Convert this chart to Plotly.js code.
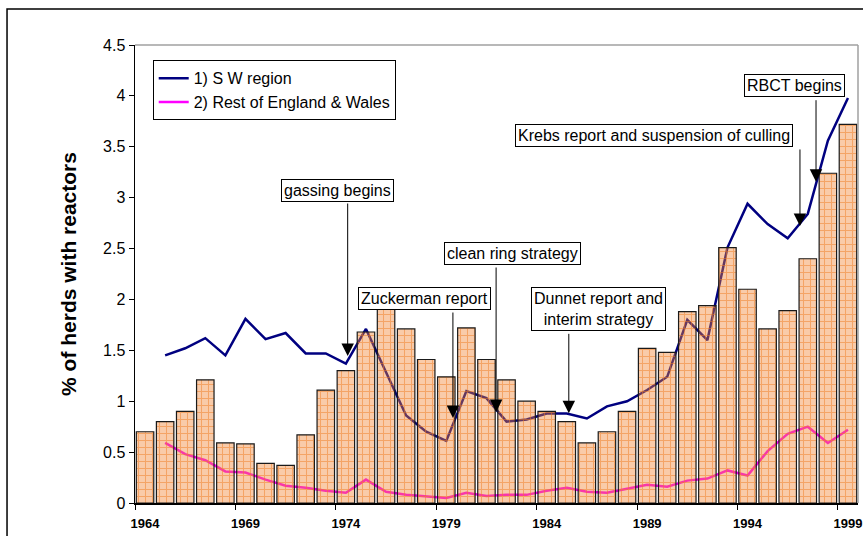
<!DOCTYPE html>
<html>
<head>
<meta charset="utf-8">
<script src="https://cdn.plot.ly/plotly-3.0.1.min.js"></script>
<style>
  html, body { margin: 0; padding: 0; background: #fff; }
  #chart { width: 863px; height: 536px; }
</style>
</head>
<body>
<div id="chart"></div>
<script>
// Years on the category axis
const years = [1964, 1965, 1966, 1967, 1968, 1969, 1970, 1971, 1972, 1973,
               1974, 1975, 1976, 1977, 1978, 1979, 1980, 1981, 1982, 1983,
               1984, 1985, 1986, 1987, 1988, 1989, 1990, 1991, 1992, 1993,
               1994, 1995, 1996, 1997, 1998, 1999];

// Bars: % of herds with reactors (GB)
const allHerds = [0.70, 0.80, 0.90, 1.21, 0.59, 0.58, 0.39, 0.37, 0.67, 1.11,
                  1.30, 1.68, 1.94, 1.71, 1.41, 1.24, 1.72, 1.41, 1.21, 1.00,
                  0.90, 0.80, 0.59, 0.70, 0.90, 1.52, 1.48, 1.88, 1.94, 2.51,
                  2.10, 1.71, 1.89, 2.40, 3.24, 3.72];

// 1) S W region
const swRegion = [null, 1.45, 1.52, 1.62, 1.45, 1.81, 1.61, 1.67, 1.47, 1.47,
                  1.37, 1.71, 1.29, 0.86, 0.70, 0.61, 1.10, 1.03, 0.80, 0.82,
                  0.88, 0.88, 0.83, 0.95, 1.00, 1.11, 1.24, 1.80, 1.60, 2.51,
                  2.94, 2.74, 2.60, 2.84, 3.56, 3.98];

// 2) Rest of England & Wales
const restEW = [null, 0.59, 0.48, 0.42, 0.31, 0.30, 0.23, 0.17, 0.15, 0.12,
                0.10, 0.23, 0.11, 0.08, 0.065, 0.05, 0.10, 0.07, 0.08, 0.08,
                0.12, 0.15, 0.11, 0.10, 0.14, 0.18, 0.16, 0.22, 0.24, 0.32,
                0.27, 0.51, 0.68, 0.75, 0.59, 0.72];

const labelYears = [1964, 1969, 1974, 1979, 1984, 1989, 1994, 1999];
const tickBounds = [1963.5, 1968.5, 1973.5, 1978.5, 1983.5, 1988.5, 1993.5, 1998.5];

// Event call-outs: box text, box centre (paper), arrow tip (data), arrow length (px)
const events = [
    { text: 'gassing begins', bx: 0.2794, by: 0.6834, year: 1974.09, val: 1.444, len: 154 },
    { text: 'Zuckerman report', bx: 0.4004, by: 0.4469, year: 1979.33, val: 0.835, len: 107 },
    { text: 'clean ring strategy', bx: 0.5224, by: 0.5443, year: 1981.48, val: 0.894, len: 146 },
    { text: 'Dunnet report and<br>interim strategy', bx: 0.6404, by: 0.4236, year: 1985.10, val: 0.881, len: 81 },
    { text: 'Krebs report and suspension of culling', bx: 0.7181, by: 0.8028, year: 1996.61, val: 2.722, len: 78 },
    { text: 'RBCT begins', bx: 0.9127, by: 0.9116, year: 1997.41, val: 3.157, len: 83 }
];

const FONT = 'Liberation Sans, Arial, sans-serif';

const swTrace = {
    x: years, y: swRegion,
    name: '1) S W region',
    type: 'scatter', mode: 'lines',
    line: { color: '#000080', width: 2.5 },
    legendgroup: 'a',
    xaxis: 'x', yaxis: 'y'
};

const restTrace = {
    x: years, y: restEW,
    name: '2) Rest of England & Wales',
    type: 'scatter', mode: 'lines',
    line: { color: '#ff00ff', width: 2.5 },
    legendgroup: 'b',
    xaxis: 'x', yaxis: 'y'
};

// bars sit on an overlaid subplot so they are drawn over the lines (see-through fill)
const barTrace = {
    x: years, y: allHerds,
    type: 'bar',
    width: 0.87,
    showlegend: false,
    marker: {
        color: 'rgba(240,130,50,0.42)',
        line: { color: '#1a1a1a', width: 1.2 },
        pattern: {
            shape: '+',
            fillmode: 'overlay',
            fgcolor: 'rgb(240,125,35)',
            size: 7,
            solidity: 0.28
        }
    },
    xaxis: 'x2', yaxis: 'y2'
};

const annotations = [];
events.forEach(function (e) {
    annotations.push({
        xref: 'paper', yref: 'paper', x: e.bx, y: e.by,
        xanchor: 'center', yanchor: 'middle',
        text: e.text, showarrow: false,
        font: { family: FONT, size: 16, color: '#000' },
        bgcolor: '#fff', bordercolor: '#000', borderwidth: 1, borderpad: 2
    });
    annotations.push({
        xref: 'x', yref: 'y', x: e.year, y: e.val,
        text: '', showarrow: true,
        ax: 0, ay: -e.len,
        arrowhead: 2, arrowsize: 2.5, arrowwidth: 1, arrowcolor: '#000'
    });
});

const layout = {
    width: 863, height: 536,
    margin: { l: 135, r: 5, t: 45, b: 33 },
    paper_bgcolor: '#fff', plot_bgcolor: '#fff',
    font: { family: FONT, color: '#000' },
    showlegend: true,
    legend: {
        x: 0.0245, y: 0.9666, xanchor: 'left', yanchor: 'top',
        bgcolor: '#fff', bordercolor: '#000', borderwidth: 1,
        font: { family: FONT, size: 16, color: '#000' },
        tracegroupgap: 0, itemwidth: 30
    },
    xaxis: {
        range: [1963.5, 1999.5],
        tickvals: labelYears,
        ticks: '', ticklabelstandoff: 8,
        tickfont: { family: FONT, size: 13, color: '#000', weight: 'bold' },
        minor: { tickvals: tickBounds, ticks: 'outside', ticklen: 5, tickcolor: '#000', showgrid: false },
        showline: true, linecolor: '#000', linewidth: 1.5,
        showgrid: false, zeroline: false, fixedrange: true
    },
    yaxis: {
        range: [0, 4.5], dtick: 0.5,
        ticks: 'outside', ticklen: 5, tickcolor: '#000',
        tickfont: { family: FONT, size: 16, color: '#000' },
        showline: true, linecolor: '#000', linewidth: 1.5,
        showgrid: false, zeroline: false, fixedrange: true,
        title: { text: '% of herds with reactors', standoff: 20,
                 font: { family: FONT, size: 21, color: '#000', weight: 'bold' } }
    },
    xaxis2: { overlaying: 'x', range: [1963.5, 1999.5], visible: false, fixedrange: true },
    yaxis2: { overlaying: 'y', range: [0, 4.5], visible: false, fixedrange: true },
    shapes: [
        { type: 'line', xref: 'paper', yref: 'paper', x0: 0, x1: 1, y0: 1, y1: 1,
          line: { color: '#a0a0a0', width: 1.5 } },
        { type: 'line', xref: 'paper', yref: 'paper', x0: 1, x1: 1, y0: 0, y1: 1,
          line: { color: '#a0a0a0', width: 1.5 } },
        { type: 'rect', xref: 'paper', yref: 'paper', x0: -0.177, x1: 1.2, y0: -0.3, y1: 1.0786,
          line: { color: '#000', width: 1.5 }, fillcolor: 'rgba(0,0,0,0)' }
    ],
    annotations: annotations
};

Plotly.newPlot('chart', [swTrace, restTrace, barTrace], layout, { displayModeBar: false, staticPlot: true });
</script>
</body>
</html>
